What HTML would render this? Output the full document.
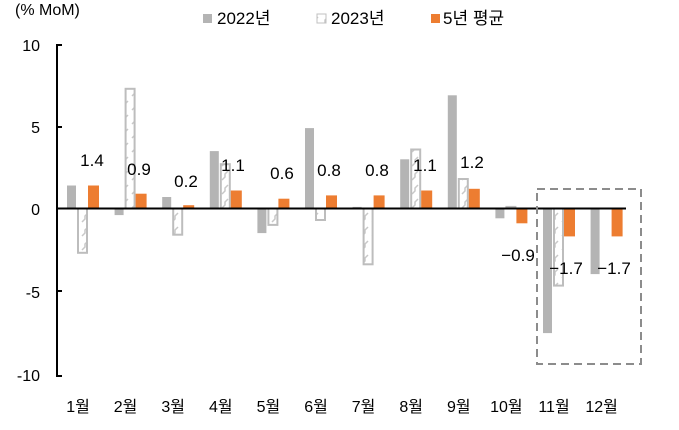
<!DOCTYPE html>
<html><head><meta charset="utf-8"><style>
html,body{margin:0;padding:0;background:#fff;}
svg{display:block;font-family:"Liberation Sans","Noto Sans CJK KR",sans-serif;}
</style></head><body>
<svg width="679" height="430" viewBox="0 0 679 430" xmlns="http://www.w3.org/2000/svg">
<defs>
<pattern id="p" width="10" height="14" patternUnits="userSpaceOnUse">
<rect width="10" height="14" fill="#fff"/>
<path d="M2 12 L5 9 L5 6 L8 3" stroke="#c8c8c8" stroke-width="1.5" fill="none"/>
</pattern>
</defs>
<text x="15" y="15" font-size="16" fill="#000">(% MoM)</text>
<rect x="203" y="14" width="9" height="9" fill="#b4b4b4"/>
<text x="217" y="24" font-size="17">2022년</text>
<rect x="317" y="14" width="9" height="9" fill="url(#p)" stroke="#c0c0c0" stroke-width="1"/>
<text x="331" y="24" font-size="17">2023년</text>
<rect x="431" y="14" width="9" height="9" fill="#ed7d31"/>
<text x="443" y="24" font-size="17">5년 평균</text>
<g font-size="16" text-anchor="end">
<text x="40" y="51">10</text>
<text x="40" y="133">5</text>
<text x="40" y="215">0</text>
<text x="40" y="298">-5</text>
<text x="40" y="381">-10</text>
</g>
<g fill="#b4b4b4">
<rect x="67" y="185.5" width="9" height="23"/>
<rect x="114.6" y="208.5" width="9" height="6.6"/>
<rect x="162.2" y="197" width="9" height="11.5"/>
<rect x="209.8" y="151.1" width="9" height="57.4"/>
<rect x="257.4" y="208.5" width="9" height="24.6"/>
<rect x="305" y="128.1" width="9" height="80.4"/>
<rect x="352.6" y="206.9" width="9" height="1.6"/>
<rect x="400.2" y="159.3" width="9" height="49.2"/>
<rect x="447.8" y="95.3" width="9" height="113.2"/>
<rect x="495.4" y="208.5" width="9" height="9.8"/>
<rect x="543" y="208.5" width="9" height="124.6"/>
<rect x="590.6" y="208.5" width="9" height="65.6"/>
</g>
<g fill="url(#p)" stroke="#bdbdbd" stroke-width="2">
<rect x="78" y="208.5" width="9" height="44.3"/>
<rect x="125.6" y="88.8" width="9" height="119.7"/>
<rect x="173.2" y="208.5" width="9" height="26.2"/>
<rect x="220.8" y="164.2" width="9" height="44.3"/>
<rect x="268.4" y="208.5" width="9" height="16.4"/>
<rect x="316" y="208.5" width="9" height="11.5"/>
<rect x="363.6" y="208.5" width="9" height="55.8"/>
<rect x="411.2" y="149.5" width="9" height="59"/>
<rect x="458.8" y="179" width="9" height="29.5"/>
<rect x="506.4" y="206.9" width="9" height="1.6"/>
<rect x="554" y="208.5" width="9" height="77.1"/>
</g>
<g fill="#ed7d31">
<rect x="88" y="185.5" width="11" height="23"/>
<rect x="135.6" y="193.7" width="11" height="14.8"/>
<rect x="183.2" y="205.2" width="11" height="3.3"/>
<rect x="230.8" y="190.5" width="11" height="18"/>
<rect x="278.4" y="198.7" width="11" height="9.8"/>
<rect x="326" y="195.4" width="11" height="13.1"/>
<rect x="373.6" y="195.4" width="11" height="13.1"/>
<rect x="421.2" y="190.5" width="11" height="18"/>
<rect x="468.8" y="188.8" width="11" height="19.7"/>
<rect x="516.4" y="208.5" width="11" height="14.8"/>
<rect x="564" y="208.5" width="11" height="27.9"/>
<rect x="611.6" y="208.5" width="11" height="27.9"/>
</g>
<g font-size="17" text-anchor="middle">
<text x="92" y="166">1.4</text>
<text x="139" y="175">0.9</text>
<text x="186" y="187">0.2</text>
<text x="233" y="171">1.1</text>
<text x="282" y="179">0.6</text>
<text x="329" y="176">0.8</text>
<text x="377" y="176">0.8</text>
<text x="425" y="171">1.1</text>
<text x="472" y="168">1.2</text>
<text x="518" y="261">−0.9</text>
<text x="566" y="274">−1.7</text>
<text x="614" y="274">−1.7</text>
</g>
<g font-size="16" text-anchor="middle">
<text x="78" y="412">1월</text>
<text x="125.6" y="412">2월</text>
<text x="173.2" y="412">3월</text>
<text x="220.8" y="412">4월</text>
<text x="268.4" y="412">5월</text>
<text x="316" y="412">6월</text>
<text x="363.6" y="412">7월</text>
<text x="411.2" y="412">8월</text>
<text x="458.8" y="412">9월</text>
<text x="506.4" y="412">10월</text>
<text x="554" y="412">11월</text>
<text x="601.6" y="412">12월</text>
</g>
<line x1="57" y1="44" x2="57" y2="377" stroke="#000" stroke-width="2"/>
<g stroke="#000" stroke-width="2">
<line x1="57" y1="45" x2="62" y2="45"/><line x1="57" y1="127" x2="62" y2="127"/>
<line x1="57" y1="291" x2="62" y2="291"/><line x1="57" y1="376" x2="62" y2="376"/>
</g>
<line x1="56" y1="208.5" x2="626" y2="208.5" stroke="#000" stroke-width="2"/>
<rect x="537" y="189" width="104" height="175" fill="none" stroke="#8c8c8c" stroke-width="2" stroke-dasharray="8,5"/>
</svg>
</body></html>
